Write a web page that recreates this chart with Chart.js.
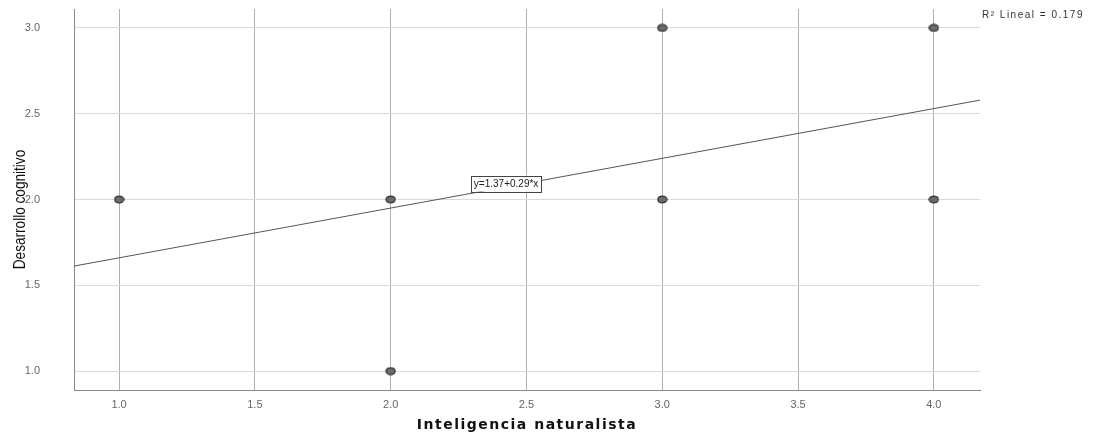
<!DOCTYPE html>
<html><head><meta charset="utf-8">
<script src="https://cdn.jsdelivr.net/npm/chart.js@4"></script>
<style>html,body{margin:0;padding:0;background:#fff}#wrap{width:1095px;height:436px}</style>
</head><body><div id="wrap"><canvas id="c" width="1095" height="436"></canvas></div>
<script>
const xValues = [1, 2, 2, 3, 3, 4, 4];
const yValues = [2, 2, 1, 3, 2, 3, 2];
const fitX = [0.834, 4.17];
const fitY = [1.612, 2.579];
const xTicks = [1.0, 1.5, 2.0, 2.5, 3.0, 3.5, 4.0];
const yTicks = [1.0, 1.5, 2.0, 2.5, 3.0];
const equationText = 'y=1.37+0.29*x';
const r2Text = 'R² Lineal = 0.179';
const xTitle = 'Inteligencia naturalista';
const yTitle = 'Desarrollo cognitivo';

function ellipseStyle(){
  const cv = document.createElement('canvas');
  cv.width = 11; cv.height = 9;
  const g = cv.getContext('2d');
  g.beginPath(); g.ellipse(5.5,4.5,4.6,3.4,0,0,Math.PI*2);
  g.fillStyle = '#6b6b6b'; g.fill();
  g.lineWidth = 1.2; g.strokeStyle = '#333'; g.stroke();
  return cv;
}

const labelPlugin = {
  id: 'labels',
  afterDatasetsDraw(chart){
    const ctx = chart.ctx;
    const xs = chart.scales.x, ys = chart.scales.y;
    const ca = chart.chartArea;
    ctx.save();
    ctx.font = '10px "Liberation Sans", Arial, sans-serif';
    ctx.textBaseline = 'middle';
    const px = xs.getPixelForValue(2.425), py = ys.getPixelForValue(2.093);
    const w = ctx.measureText(equationText).width + 6;
    ctx.fillStyle = '#fff';
    ctx.fillRect(px - w/2, py - 8, w, 16);
    ctx.strokeStyle = '#444'; ctx.lineWidth = 1;
    ctx.strokeRect(Math.round(px - w/2)+0.5, Math.round(py - 8)+0.5, Math.round(w), 16);
    ctx.fillStyle = '#222'; ctx.textAlign = 'center';
    ctx.fillText(equationText, px, py + 0.5);
    ctx.font = '10px "Liberation Sans", Arial, sans-serif';
    ctx.letterSpacing = '1.5px';
    ctx.textAlign = 'left'; ctx.fillStyle = '#333';
    ctx.fillText(r2Text, 982, 15);
    // x title
    ctx.font = 'bold 14px "DejaVu Sans", sans-serif';
    ctx.letterSpacing = '1.5px';
    ctx.fillStyle = '#111'; ctx.textAlign = 'center'; ctx.textBaseline = 'middle';
    ctx.fillText(xTitle, (ca.left + ca.right) / 2, 425);
    ctx.letterSpacing = '0px';
    // y title (condensed)
    ctx.save();
    ctx.translate(21, (ca.top + ca.bottom) / 2 + 10);
    ctx.rotate(-Math.PI / 2);
    ctx.scale(0.85, 1);
    ctx.font = '16px "Liberation Sans", Arial, sans-serif';
    ctx.fillStyle = '#111';
    ctx.fillText(yTitle, 0, 0);
    ctx.restore();
    ctx.restore();
  }
};

new Chart(document.getElementById('c'), {
  type: 'scatter',
  data: {
    datasets: [
      { type: 'line', data: fitX.map((x,i)=>({x, y: fitY[i]})), borderColor: '#555', borderWidth: 1, pointRadius: 0, fill: false, order: 2 },
      { data: xValues.map((x,i)=>({x, y: yValues[i]})), pointStyle: ellipseStyle(), pointRadius: 5, order: 1 }
    ]
  },
  options: {
    responsive: false, animation: false, devicePixelRatio: 1,
    layout: { padding: { top: 9, right: 115, left: 0, bottom: 0 } },
    plugins: { legend: { display: false }, tooltip: { enabled: false } },
    scales: {
      x: {
        type: 'linear', min: 0.834, max: 4.17,
        afterBuildTicks: s => { s.ticks = xTicks.map(v => ({ value: v })); },
        afterFit: s => { s.height = 46; s.paddingLeft = 0; s.paddingRight = 0; },
        grid: { color: '#b0b0b0', drawTicks: false, lineWidth: 1 },
        border: { color: '#888', width: 1 },
        ticks: { padding: 8, color: '#666', font: { size: 11, family: '"Liberation Sans", Arial' }, callback: v => v.toFixed(1), maxRotation: 0 },
        title: { display: false }
      },
      y: {
        type: 'linear', min: 0.89, max: 3.11,
        afterBuildTicks: s => { s.ticks = yTicks.map(v => ({ value: v })); },
        afterFit: s => { s.width = 74; s.paddingTop = 0; s.paddingBottom = 0; },
        grid: { color: '#dadada', drawTicks: false, lineWidth: 1 },
        border: { color: '#888', width: 1 },
        ticks: { padding: 34, color: '#666', font: { size: 11, family: '"Liberation Sans", Arial' }, callback: v => v.toFixed(1) },
        title: { display: false }
      }
    }
  },
  plugins: [labelPlugin]
});
</script></body></html>
